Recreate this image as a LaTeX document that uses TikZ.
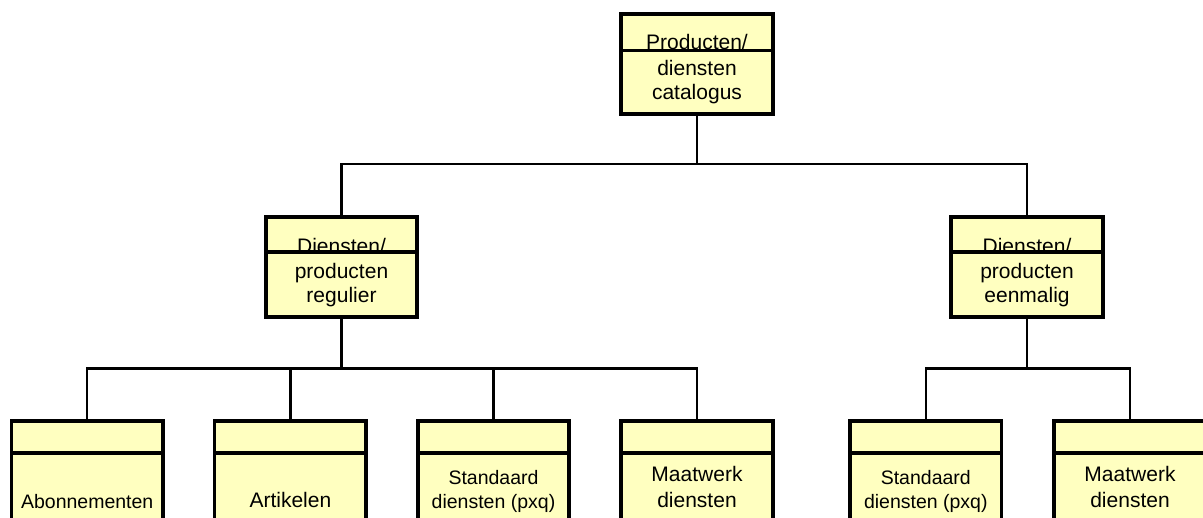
\documentclass[tikz,border=0pt]{standalone}
\usepackage{fontspec}
\setmainfont{Liberation Sans}
\usetikzlibrary{calc}
\definecolor{classfill}{HTML}{FFFFC0}
\begin{document}
\begin{tikzpicture}[x=1pt,y=-1pt,
  classbox/.style={draw, line width=3.6pt, fill=classfill, rectangle, outer sep=0pt,
    minimum width=151.5pt, minimum height=100pt, inner sep=0pt, anchor=north},
  compart/.style={draw, line width=3.6pt, fill=classfill},
  wire/.style={draw, line width=2.2pt},
  headtext/.style={anchor=base, inner sep=0pt, font=\fontsize{21}{24}\selectfont},
  bodytext/.style={anchor=base, inner sep=0pt, align=center, font=\fontsize{21}{24}\selectfont},
  widetext/.style={bodytext, font=\fontsize{21}{25.6}\selectfont},
  smalltext/.style={bodytext, font=\fontsize{19.5}{24}\selectfont}]
\useasboundingbox (0,0) rectangle (1203,518);
\clip (0,0) rectangle (1203,518);

% bus levels of the tree
\coordinate (busA) at (0,164.3);
\coordinate (busB) at (0,368.5);

% class boxes (top edge positions)
\coordinate (pTop) at (697,14);
\coordinate (pRegL) at (341.5,217);
\coordinate (pRegR) at (1027,217);

% connectors, drawn first so the boxes cover their ends
\coordinate (cAbo) at (87.2,421);
\coordinate (cArt) at (290.4,421);
\coordinate (cStdL) at (493.5,421);
\coordinate (cMaatL) at (697,421);
\coordinate (cStdR) at (925.8,421);
\coordinate (cMaatR) at (1130,421);

\draw[wire] (pTop) ++(0,100) coordinate (sTop) -- (sTop |- busA) -| (pRegL);
\draw[wire] (sTop |- busA) -| (pRegR);
\draw[wire] (pRegL) ++(0,100) coordinate (sRegL) -- (sRegL |- busB) -| (cAbo);
\draw[wire] (sRegL |- busB) -| (cArt);
\draw[wire] (sRegL |- busB) -| (cStdL);
\draw[wire] (sRegL |- busB) -| (cMaatL);
\draw[wire] (pRegR) ++(0,100) coordinate (sRegR) -- (sRegR |- busB) -| (cStdR);
\draw[wire] (sRegR |- busB) -| (cMaatR);

% top class (the lower compartment is drawn over the header text)
\node[classbox] (top) at (pTop) {};
\node[headtext] (topHead) at ($(top.north)+(0,35.5)$) {Producten/};
\filldraw[compart] ($(top.north west)+(0,36.7)$) rectangle (top.south east);
\node[bodytext] (topBody) at ($(top.north)+(0,86)$) {diensten\\catalogus};

% second level
\node[classbox] (regL) at (pRegL) {};
\node[headtext] (regLHead) at ($(regL.north)+(0,36.3)$) {Diensten/};
\filldraw[compart] ($(regL.north west)+(0,35)$) rectangle (regL.south east);
\node[bodytext] (regLBody) at ($(regL.north)+(0,86)$) {producten\\regulier};

\node[classbox] (regR) at (pRegR) {};
\node[headtext] (regRHead) at ($(regR.north)+(0,36.3)$) {Diensten/};
\filldraw[compart] ($(regR.north west)+(0,35)$) rectangle (regR.south east);
\node[bodytext] (regRBody) at ($(regR.north)+(0,86)$) {producten\\eenmalig};

% leaf classes
\foreach \nm/\pos in {abo/cAbo, art/cArt, stdL/cStdL, maatL/cMaatL, stdR/cStdR, maatR/cMaatR}{
  \node[classbox] (\nm) at (\pos) {};
  \filldraw[compart] ($(\nm.north west)+(0,32.3)$) rectangle (\nm.south east);
}
\node[smalltext] (aboBody) at ($(abo.north)+(0,87)$) {Abonnementen};
\node[bodytext] (artBody) at ($(art.north)+(0,86.5)$) {Artikelen};
\node[smalltext] (stdLBody) at ($(stdL.north)+(0,87)$) {Standaard\\diensten (pxq)};
\node[widetext] (maatLBody) at ($(maatL.north)+(0,86.3)$) {Maatwerk\\diensten};
\node[smalltext] (stdRBody) at ($(stdR.north)+(0,87)$) {Standaard\\diensten (pxq)};
\node[widetext] (maatRBody) at ($(maatR.north)+(0,86.3)$) {Maatwerk\\diensten};
\end{tikzpicture}
\end{document}
